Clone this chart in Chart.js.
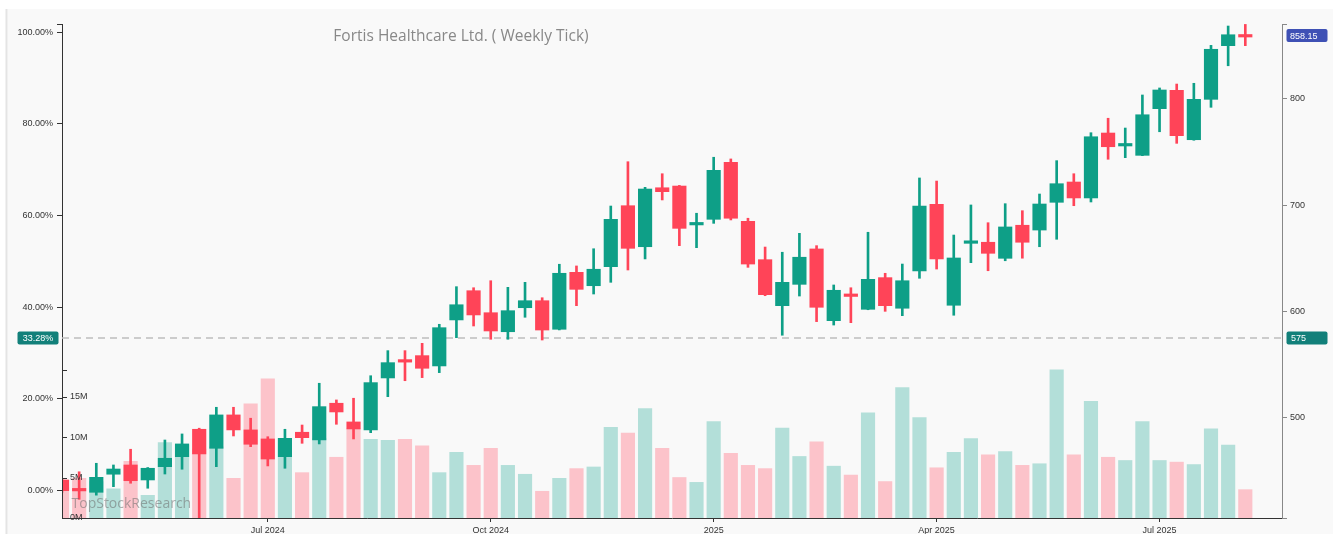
<!DOCTYPE html>
<html>
<head>
<meta charset="utf-8">
<title>Fortis Healthcare Ltd. ( Weekly Tick)</title>
<script src="https://cdn.jsdelivr.net/npm/chart.js@4.4.1/dist/chart.umd.min.js"></script>
<style>
  html, body { margin: 0; padding: 0; background: #fff; }
  #wrap { width: 1333px; height: 534px; }
</style>
</head>
<body>
<div id="wrap"><canvas id="graficoVelas" width="1333" height="534"></canvas></div>
<script>
// Weekly candles, Apr 2024 -> Aug 2025 (price INR, volume in millions)
const opens = [441.3, 431.6, 429.7, 446.7, 455.4, 441.3, 453.8, 463.2, 489.0, 471.1,
  502.5, 488.4, 479.9, 463.2, 486.2, 479.0, 513.5, 495.9, 488.4, 537.3,
  552.8, 558.3, 548.6, 591.9, 619.4, 598.7, 580.8, 603.4, 610.0, 583.1,
  636.7, 624.1, 642.0, 699.4, 660.8, 716.3, 717.9, 681.3, 686.6, 740.2,
  684.7, 648.6, 605.3, 625.4, 658.7, 591.2, 614.5, 601.9, 631.7, 602.9,
  638.0, 700.7, 605.7, 664.0, 665.0, 649.9, 681.0, 676.5, 702.6, 721.7,
  706.7, 767.8, 755.6, 746.8, 790.7, 808.0, 761.5, 799.5, 850.0, 858.6];
const highs = [442.5, 449.0, 457.0, 455.4, 470.2, 453.0, 478.9, 484.6, 490.0, 509.7,
  509.7, 499.4, 482.0, 489.0, 493.0, 532.3, 516.6, 518.2, 539.4, 563.0,
  563.0, 569.9, 587.8, 623.2, 622.2, 628.8, 622.6, 627.3, 612.8, 644.3,
  642.7, 658.9, 699.1, 740.8, 716.7, 729.5, 718.5, 692.3, 745.0, 743.4,
  687.6, 660.5, 655.6, 673.4, 661.8, 624.8, 622.2, 674.4, 635.8, 644.5,
  725.5, 722.6, 671.8, 700.1, 683.4, 701.3, 694.7, 710.4, 741.8, 729.5,
  768.1, 781.7, 772.5, 803.6, 810.2, 813.9, 814.6, 850.3, 868.5, 870.0];
const lows = [429.5, 423.1, 427.0, 435.0, 438.2, 433.5, 446.9, 451.4, 398.0, 453.8,
  482.7, 472.6, 454.5, 452.3, 475.8, 475.2, 493.7, 479.9, 485.8, 519.7,
  534.7, 537.6, 542.3, 575.2, 586.2, 573.7, 573.7, 594.4, 573.0, 582.5,
  605.3, 616.3, 627.3, 638.9, 649.3, 704.8, 661.8, 659.9, 682.8, 686.0,
  641.4, 614.7, 577.5, 614.4, 590.3, 587.1, 589.3, 601.5, 600.0, 595.9,
  631.1, 639.8, 596.3, 645.8, 638.2, 647.6, 650.0, 660.8, 667.8, 699.4,
  702.9, 743.1, 744.6, 746.5, 769.0, 758.1, 761.0, 792.0, 831.1, 850.0];
const closes = [431.2, 431.0, 443.8, 451.6, 440.6, 452.3, 461.7, 475.2, 465.8, 502.5,
  488.4, 474.9, 461.0, 480.5, 481.1, 510.3, 505.3, 489.3, 532.9, 551.7,
  552.2, 546.4, 584.6, 606.2, 596.6, 581.5, 600.6, 610.0, 582.4, 635.8,
  620.7, 639.6, 686.6, 659.3, 715.1, 712.6, 678.1, 681.8, 732.7, 687.6,
  644.5, 615.7, 627.3, 650.9, 603.8, 619.8, 614.0, 630.1, 605.3, 628.8,
  699.1, 649.3, 650.2, 664.5, 654.6, 679.4, 665.0, 701.0, 720.1, 706.7,
  764.3, 754.9, 756.0, 785.0, 808.3, 765.3, 799.5, 846.6, 860.3, 858.15];
const volumes = [3.8, 4.9, 4.5, 3.6, 7.0, 2.8, 9.3, 9.0, 8.5, 8.8,
  4.9, 14.1, 17.2, 7.5, 5.6, 9.8, 7.5, 11.0, 9.7, 9.6,
  9.7, 8.9, 5.6, 8.1, 6.5, 8.6, 6.5, 5.4, 3.3, 4.9,
  6.1, 6.3, 11.2, 10.5, 13.5, 8.6, 5.0, 4.4, 11.9, 8.0,
  6.5, 6.1, 11.1, 7.6, 9.4, 6.4, 5.3, 13.0, 4.5, 16.1,
  12.4, 6.2, 8.1, 9.8, 7.8, 8.2, 6.5, 6.7, 18.3, 7.8,
  14.4, 7.5, 7.1, 11.9, 7.1, 6.9, 6.6, 11.0, 9.0, 3.5];

// Axis ticks and reference levels
const xTickIdx = [12, 25, 38, 51, 64];
const xTickLabels = ['Jul 2024', 'Oct 2024', '2025', 'Apr 2025', 'Jul 2025'];
const priceTicks = [500, 600, 700, 800];
const pctTicks = [0, 20, 40, 60, 80, 100];
const volTicks = [0, 5, 10, 15];
const basePrice = 431.42;
const refLevel = 575;
const priceMin = 405.5;
const priceMax = 870.4;
const xMax = 71.14;

const UP = '#0e9f87', DOWN = '#ff4458';
const UP_VOL = '#b3dfd9', DOWN_VOL = '#fcc3ca';

const toPct = p => (p / basePrice - 1) * 100;
const volMax = Math.max(...volumes);

const bodies = opens.map((o, i) => ({ x: i, y: [o, closes[i]] }));
const wicks = opens.map((o, i) => ({ x: i, y: [lows[i], highs[i]] }));
const vols = volumes.map((v, i) => ({ x: i, y: v }));
const candleColors = opens.map((o, i) => closes[i] >= o ? UP : DOWN);
const volColors = opens.map((o, i) => closes[i] >= o ? UP_VOL : DOWN_VOL);

function badge(ctx, x, y, w, h, bg, text, textX, align) {
    ctx.fillStyle = bg;
    ctx.beginPath();
    ctx.roundRect(x, y - h / 2, w, h, 2);
    ctx.fill();
    ctx.fillStyle = '#ffffff';
    ctx.textAlign = align;
    ctx.textBaseline = 'middle';
    ctx.fillText(text, textX, y + 0.5);
}

const extras = {
    id: 'extras',
    beforeDraw(chart) {
        const ctx = chart.ctx;
        ctx.save();
        ctx.fillStyle = '#ffffff';
        ctx.fillRect(0, 0, chart.width, chart.height);
        ctx.fillStyle = '#f9f9f9';
        ctx.fillRect(7.5, 9, chart.width - 7.5, chart.height - 9);
        ctx.fillStyle = '#e4e4e4';
        ctx.fillRect(5.5, 9, 2, chart.height - 9);
        ctx.restore();
    },
    beforeDatasetsDraw(chart) {
        //Linea punteada del nivel de referencia
        const { ctx, chartArea, scales } = chart;
        const y = scales.y.getPixelForValue(refLevel);
        ctx.save();
        ctx.strokeStyle = '#bdbdbd';
        ctx.lineWidth = 1.5;
        ctx.setLineDash([7, 5]);
        ctx.beginPath();
        ctx.moveTo(chartArea.left, y);
        ctx.lineTo(chartArea.right, y);
        ctx.stroke();
        ctx.restore();
    },
    afterDatasetsDraw(chart) {
        //Eje de volumen y marca de agua
        const { ctx, chartArea, scales } = chart;
        const v = scales.yv;
        const x0 = chartArea.left;
        ctx.save();
        ctx.strokeStyle = '#333';
        ctx.lineWidth = 1;
        ctx.beginPath();
        ctx.moveTo(x0 + 0.5, v.getPixelForValue(0));
        ctx.lineTo(x0 + 0.5, v.getPixelForValue(volMax));
        [...volTicks, volMax].forEach(t => {
            const y = Math.round(v.getPixelForValue(t)) + 0.5;
            ctx.moveTo(x0, y);
            ctx.lineTo(x0 + 5, y);
        });
        ctx.stroke();
        ctx.fillStyle = '#333';
        ctx.font = '9px "Liberation Sans", Arial, sans-serif';
        ctx.textAlign = 'left';
        ctx.textBaseline = 'middle';
        volTicks.forEach(t => ctx.fillText(t + 'M', x0 + 8, v.getPixelForValue(t)));

        ctx.fillStyle = 'rgba(110, 110, 110, 0.55)';
        ctx.font = '14px "Open Sans", sans-serif';
        ctx.fillText('TopStockResearch', x0 + 9.5, 504);
        ctx.restore();
    },
    afterDraw(chart) {
        const { ctx, chartArea, scales } = chart;
        ctx.save();
        ctx.fillStyle = '#888888';
        ctx.font = '15.5px "Open Sans", sans-serif';
        ctx.textAlign = 'center';
        ctx.textBaseline = 'middle';
        ctx.fillText('Fortis Healthcare Ltd. ( Weekly Tick)', chartArea.left + 399, 37);

        ctx.font = '9px "Liberation Sans", Arial, sans-serif';
        const yRef = scales.y.getPixelForValue(refLevel);
        badge(ctx, 17.5, yRef, 41, 13, '#12807a', toPct(refLevel).toFixed(2) + '%', 38, 'center');
        badge(ctx, chartArea.right + 4.5, yRef, 41, 13, '#12807a', String(refLevel), chartArea.right + 9, 'left');
        const last = closes[closes.length - 1];
        const yLast = scales.y.getPixelForValue(last) - 1.5;
        badge(ctx, chartArea.right + 4.5, yLast, 41, 13, '#3f51b5', last.toFixed(2), chartArea.right + 8, 'left');
        ctx.restore();
    }
};

Chart.defaults.font.family = '"Liberation Sans", Arial, sans-serif';
Chart.defaults.font.size = 9;
Chart.defaults.color = '#333';

const ctx = document.getElementById('graficoVelas').getContext('2d');
new Chart(ctx, {
    type: 'bar',
    data: {
        datasets: [
            {
                label: 'Cuerpo',
                data: bodies,
                backgroundColor: candleColors,
                barThickness: 13.5,
                minBarLength: 2.5,
                grouped: false,
                order: 0,
                yAxisID: 'y'
            },
            {
                label: 'Mecha',
                data: wicks,
                backgroundColor: candleColors,
                barThickness: 2,
                grouped: false,
                order: 1,
                yAxisID: 'y'
            },
            {
                label: 'Volumen',
                data: vols,
                backgroundColor: volColors,
                barThickness: 13.5,
                grouped: false,
                order: 2,
                yAxisID: 'yv'
            }
        ]
    },
    options: {
        responsive: false,
        animation: false,
        layout: { padding: { top: 24, left: 0, right: 0, bottom: 0 } },
        plugins: {
            legend: { display: false },
            tooltip: { enabled: false }
        },
        scales: {
            x: {
                type: 'linear',
                position: 'bottom',
                min: 0,
                max: xMax,
                offset: false,
                grid: { drawOnChartArea: false, drawTicks: true, tickLength: 4, color: '#333', offset: false },
                border: { display: true, color: '#333' },
                ticks: {
                    padding: 3,
                    autoSkip: false,
                    maxRotation: 0,
                    callback: (v) => {
                        const k = xTickIdx.indexOf(v);
                        return k >= 0 ? xTickLabels[k] : '';
                    }
                },
                afterBuildTicks: s => { s.ticks = xTickIdx.map(v => ({ value: v })); },
                afterFit: s => { s.height = 16; }
            },
            yPct: {
                type: 'linear',
                position: 'left',
                min: toPct(priceMin),
                max: toPct(priceMax),
                grid: { drawOnChartArea: false, tickLength: 5, color: '#333' },
                border: { display: true, color: '#333' },
                ticks: {
                    padding: 4,
                    callback: (v) => pctTicks.includes(v) ? v.toFixed(2) + '%' : ''
                },
                afterBuildTicks: s => { s.ticks = [...pctTicks, s.max].map(v => ({ value: v })); },
                afterFit: s => { s.width = 62; }
            },
            y: {
                type: 'linear',
                position: 'right',
                min: priceMin,
                max: priceMax,
                grid: { drawOnChartArea: false, tickLength: 5, color: '#888' },
                border: { display: true, color: '#888' },
                ticks: {
                    padding: 3,
                    callback: (v) => priceTicks.includes(v) ? String(v) : ''
                },
                afterBuildTicks: s => { s.ticks = [priceMin, ...priceTicks, priceMax].map(v => ({ value: v })); },
                afterFit: s => { s.width = 51; }
            },
            yv: {
                type: 'linear',
                display: false,
                min: 0,
                max: volMax / 0.3
            }
        }
    },
    plugins: [extras]
});
</script>
</body>
</html>
